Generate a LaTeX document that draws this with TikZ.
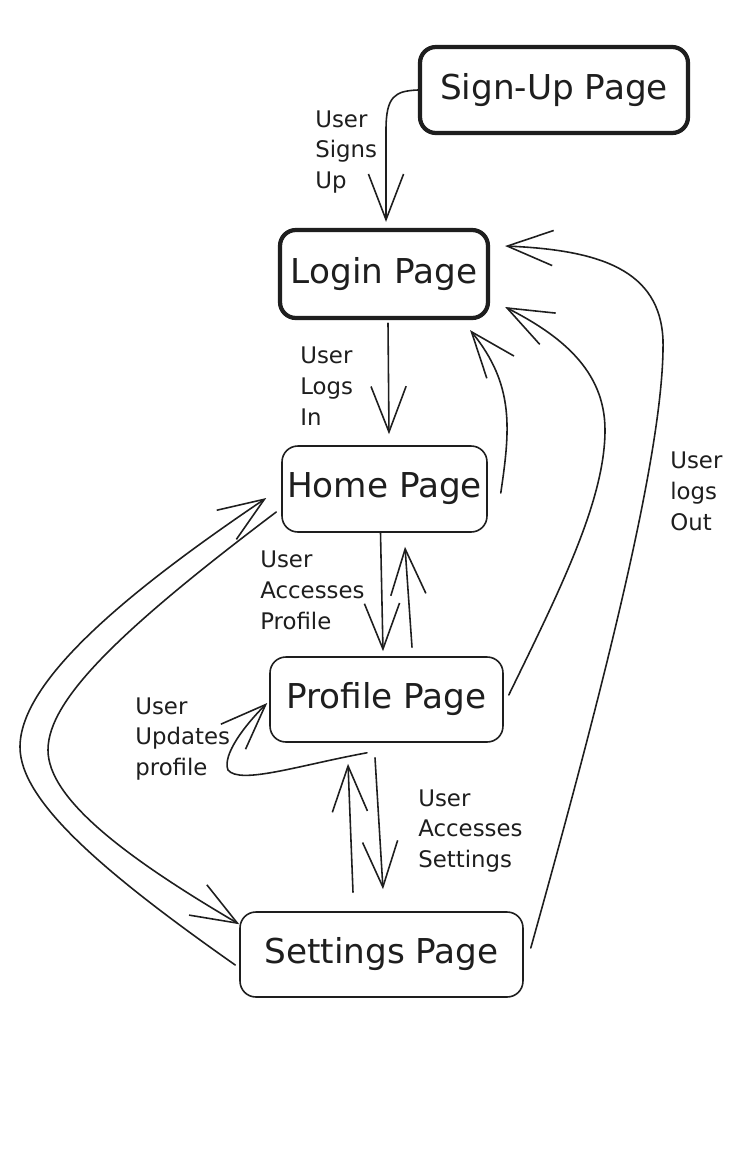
\documentclass[tikz,border=0pt]{standalone}
\usepackage{fontspec}
\setmainfont{DejaVu Sans}
\usetikzlibrary{arrows.meta,calc}
\definecolor{ink}{HTML}{1E1E1E}
\begin{document}
\begin{tikzpicture}[x=0.02cm,y=-0.02cm,
  page/.style={draw=ink, rounded corners=9pt, line width=0.9pt, text=ink,
    font=\fontsize{19.5}{23}\selectfont, inner sep=0pt},
  keypage/.style={page, line width=2.4pt},
  flow/.style={draw=ink, line width=0.9pt, line cap=round,
    -{Straight Barb[length=26pt,width=20pt,line width=0.9pt]}},
  lbl/.style={text=ink, font=\fontsize{13}{17.6}\selectfont, align=left,
    anchor=west, inner sep=0pt}]

\useasboundingbox[fill=white] (0,0) rectangle (750,1156);

% pages
\node[keypage, minimum width=5.36cm, minimum height=1.72cm] (su) at (554,90) {Sign-Up Page};
\node[keypage, minimum width=4.16cm, minimum height=1.76cm] (login) at (384,274) {Login Page};
\node[page, minimum width=4.10cm, minimum height=1.72cm] (home) at (384.5,489) {Home Page};
\node[page, minimum width=4.66cm, minimum height=1.70cm] (profile) at (386.5,699.5) {Profile Page};
\node[page, minimum width=5.66cm, minimum height=1.70cm] (settings) at (381.5,954.5) {Settings Page};

% transition labels
\node[lbl] (lsign) at (315,152) {User\\Signs\\Up};
\node[lbl] (llog) at (300,386) {User\\Logs\\In};
\node[lbl] (lprof) at (260,590) {User\\Accesses\\Profile};
\node[lbl] (lupd) at (135,739) {User\\Updates\\profile};
\node[lbl] (lset) at (418,831) {User\\Accesses\\Settings};
\node[lbl] (lout) at (670,491) {User\\logs\\Out};

% sign-up -> login
\draw[flow] (su.west) .. controls (395,91) and (386,96) .. (386,130)
  -- ($(login.north)+(2,-6)$);
% login -> home
\draw[flow] ($(login.south)+(4,3)$) -- ($(home.north)+(4.5,-11)$);
% home -> login
\draw[flow] ($(home.east)+(13,4)$) .. controls (510,430) and (515,385)
  .. ($(login.south east)+(-20,10)$);
% profile -> login
\draw[flow] ($(profile.east)+(5,-4.5)$) .. controls (560,590) and (605,500) .. (605,430)
  .. controls (605,370) and (560,335) .. ($(login.east)+(15,33)$);
% settings -> login (log out)
\draw[flow] ($(settings.east)+(7,-6.5)$) .. controls (600,700) and (665,450) .. (663,340)
  .. controls (660,270) and (600,250) .. ($(login.east)+(15,-28)$);
% home <-> profile
\draw[flow] ($(home.south)+(-4,0)$) -- ($(profile.north)+(-3.5,-5)$);
\draw[flow] ($(profile.north)+(25.5,-9)$) -- ($(home.south)+(20.5,14)$);
% profile self loop
\draw[flow] ($(profile.south)+(-19.5,10)$) .. controls (300,765) and (240,785) .. (228,770)
  .. controls (222,755) and (245,725) .. ($(profile.west)+(-2,3.5)$);
% profile <-> settings
\draw[flow] ($(settings.north)+(-28.5,-19)$) -- ($(profile.south)+(-38.5,21)$);
\draw[flow] ($(profile.south)+(-11.5,15)$) -- ($(settings.north)+(1.5,-22)$);
% home <-> settings, round the left side
\draw[flow] ($(home.west)+(-5,23)$) .. controls (120,630) and (48,700) .. (48,750)
  .. controls (48,800) and (130,860) .. ($(settings.north west)+(0,13)$);
\draw[flow] ($(settings.west)+(-4,10.5)$) .. controls (100,870) and (20,800) .. (20,747)
  .. controls (20,680) and (130,590) .. ($(home.west)+(-15,9)$);
\end{tikzpicture}
\end{document}
